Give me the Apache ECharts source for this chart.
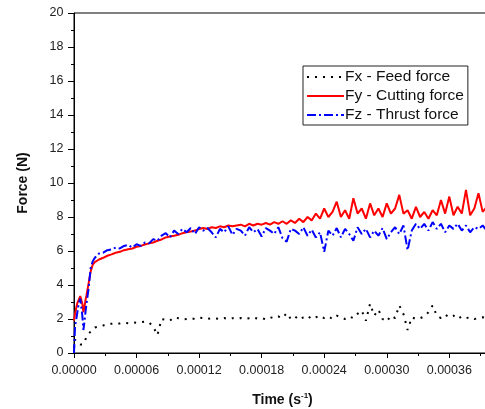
<!DOCTYPE html>
<html>
<head>
<meta charset="utf-8">
<script src="https://cdn.jsdelivr.net/npm/echarts@6/dist/echarts.min.js"></script>
<style>
html,body{margin:0;padding:0;background:#fff;}
#chart{width:485px;height:409px;}
</style>
</head>
<body>
<div id="chart"></div>
<script>
// Time in microseconds (axis labels shown in seconds)
const timeUs = [0,1,2,3,4,5,6,7,8,9,10,11,12,14,16,18,20,
  24,28,32,36,40,44,48,52,56,60,
  64,68,72,76,80,84,88,92,96,100,
  104,108,112,116,120,124,128,132,136,140,
  144,148,152,156,160,164,168,172,176,180,
  184,188,192,196,200,204,208,212,216,220,
  224,228,232,236,240,244,248,252,256,260,
  264,268,272,276,280,284,288,292,296,300,
  304,308,312,316,320,324,328,332,336,340,
  344,348,352,356,360,364,368,372,376,380,
  384,388,392,396,400];

const fxFeed = [0.3,0.8,0.65,0.6,0.55,0.6,0.5,0.45,0.5,0.47,0.6,0.8,0.95,1.15,1.25,1.4,1.5,
  1.55,1.62,1.7,1.72,1.75,1.73,1.78,1.75,1.8,1.78,
  1.82,1.85,1.8,1.55,1.05,2.0,1.95,1.9,2.1,2.05,
  1.98,2.0,2.05,2.0,2.08,2.05,2.0,2.05,2.03,2.0,
  2.06,2.0,2.05,2.02,2.06,2.0,2.05,2.1,2.02,2.05,
  1.98,2.1,2.05,2.15,2.05,2.35,2.0,2.15,1.95,2.1,
  2.2,2.0,2.1,2.2,2.05,2.15,2.0,2.2,2.1,2.0,
  2.15,2.05,2.3,2.5,1.9,2.9,2.2,2.55,2.0,1.85,
  2.2,2.05,2.8,2.3,1.35,2.1,2.0,2.05,2.15,2.4,
  2.8,2.2,2.05,2.25,2.1,2.2,2.0,2.15,2.05,2.1,
  2.0,2.05,2.1,2.05,2.1];

const fyCutting = [1.9,2.3,2.6,2.9,3.0,3.2,3.35,3.4,2.9,2.4,2.7,3.1,3.4,4.1,4.8,5.2,5.35,
  5.5,5.6,5.72,5.8,5.9,5.95,6.05,6.1,6.15,6.25,
  6.3,6.38,6.45,6.5,6.6,6.68,6.8,6.85,6.9,6.95,
  7.05,7.1,7.15,7.2,7.3,7.35,7.3,7.4,7.35,7.45,
  7.4,7.5,7.45,7.5,7.55,7.45,7.6,7.5,7.6,7.55,
  7.65,7.55,7.7,7.6,7.75,7.6,7.8,7.65,7.9,7.7,
  8.0,7.8,8.2,7.9,8.5,8.0,8.3,8.9,8.0,8.4,
  7.9,9.1,8.2,8.5,7.9,8.8,8.1,8.5,8.0,8.8,
  8.2,8.5,9.3,8.2,8.4,7.9,8.6,8.0,8.3,7.9,
  8.4,8.1,9.0,8.2,9.2,8.1,8.6,8.2,9.6,8.1,
  8.5,9.4,8.3,8.6,8.2];

const fzThrust = [0,1.6,1.9,2.3,2.7,3.0,3.2,3.3,2.2,1.35,1.8,2.4,2.9,3.8,5.0,5.4,5.6,
  5.85,5.9,6.05,6.1,6.2,6.15,6.3,6.35,6.2,6.4,
  6.3,6.5,6.45,6.7,6.6,6.9,7.05,6.8,7.2,7.0,
  7.3,7.1,7.35,7.0,7.4,7.2,7.35,7.1,6.8,7.3,
  7.1,7.45,6.95,7.3,7.2,6.9,7.4,7.1,7.3,6.85,
  7.35,7.2,7.0,7.4,6.75,6.55,7.3,7.2,7.0,7.4,
  6.9,7.25,6.8,7.1,5.95,7.2,6.9,7.35,6.8,7.3,
  7.0,6.6,7.4,7.0,7.3,6.8,7.2,6.9,7.35,6.7,
  7.1,7.4,7.0,7.5,6.05,7.2,7.6,7.3,7.6,7.2,
  7.7,7.3,7.6,7.1,7.5,7.3,7.6,7.2,7.5,7.1,
  7.4,7.3,7.5,7.2,7.3];

const seriesNames = ['Fx - Feed force', 'Fy - Cutting force', 'Fz - Thrust force'];

const pairs = arr => timeUs.map((t, i) => [t, arr[i]]);
const FONT = 'Liberation Sans, Arial, sans-serif';

const chart = echarts.init(document.getElementById('chart'), null, {renderer: 'canvas'});
chart.setOption({
  animation: false,
  backgroundColor: '#fff',
  grid: {left: 74, right: -6, top: 13, bottom: 56, show: true, borderColor: '#000', borderWidth: 1,
    containLabel: false, outerBoundsMode: 'none'},
  legend: {
    orient: 'vertical', left: 303, top: 66,
    data: seriesNames,
    backgroundColor: '#fff',
    borderColor: '#222', borderWidth: 1,
    padding: [3, 4, 2, 3],
    itemGap: 3, itemWidth: 37, itemHeight: 14,
    itemStyle: {opacity: 0},
    textStyle: {fontFamily: FONT, fontSize: 15.5, lineHeight: 15, color: '#111', padding: [0, 0, 0, -4]}
  },
  xAxis: {
    type: 'value', min: 0, max: 400, interval: 60,
    name: 'Time (s{sup|-1})', nameLocation: 'middle', nameGap: 39,
    nameTextStyle: {fontFamily: FONT, fontSize: 14, fontWeight: 'bold', color: '#111',
      rich: {sup: {fontFamily: FONT, fontSize: 8, fontWeight: 'bold', color: '#111', padding: [0, 0, 8, 0]}}},
    axisLine: {lineStyle: {color: '#000', width: 1}},
    axisTick: {inside: false, length: 5, lineStyle: {color: '#000'}},
    minorTick: {show: true, splitNumber: 2, length: 3, lineStyle: {color: '#000'}},
    splitLine: {show: false},
    axisLabel: {fontFamily: FONT, fontSize: 12.5, color: '#222', margin: 11.5,
      formatter: v => (v * 1e-6).toFixed(5)}
  },
  yAxis: {
    type: 'value', min: 0, max: 20, interval: 2,
    name: 'Force (N)', nameLocation: 'middle', nameGap: 44,
    nameTextStyle: {fontFamily: FONT, fontSize: 14, fontWeight: 'bold', color: '#111'},
    axisLine: {show: true, lineStyle: {color: '#000', width: 1}},
    axisTick: {inside: false, length: 6, lineStyle: {color: '#000'}},
    minorTick: {show: true, splitNumber: 2, length: 3, lineStyle: {color: '#000'}},
    splitLine: {show: false},
    axisLabel: {fontFamily: FONT, fontSize: 12.5, color: '#222', margin: 10.5}
  },
  series: [
    {name: seriesNames[0], type: 'line', data: pairs(fxFeed), symbol: 'none',
      lineStyle: {color: '#000', width: 2, type: [2, 6]}, itemStyle: {color: '#000'}},
    {name: seriesNames[1], type: 'line', data: pairs(fyCutting), symbol: 'none',
      lineStyle: {color: '#ff0000', width: 2}, itemStyle: {color: '#ff0000'}},
    {name: seriesNames[2], type: 'line', data: pairs(fzThrust), symbol: 'none',
      lineStyle: {color: '#0000ff', width: 2, type: [9, 3, 2, 3]}, itemStyle: {color: '#0000ff'}}
  ]
});
</script>
</body>
</html>
